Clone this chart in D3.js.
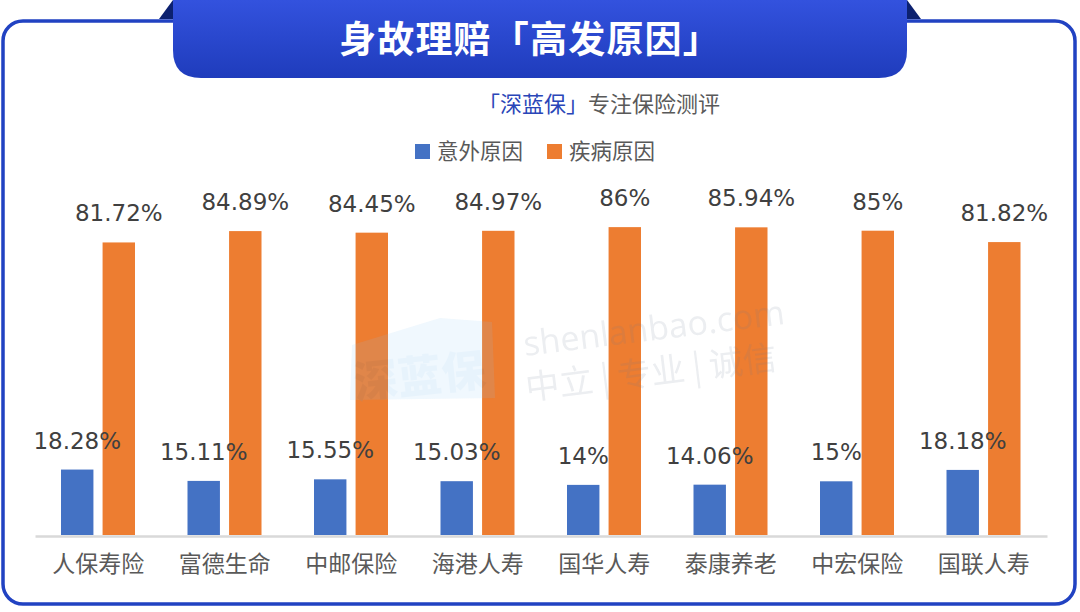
<!DOCTYPE html>
<html><head><meta charset="utf-8">
<script src="https://cdn.jsdelivr.net/npm/d3@7"></script>
<style>html,body{margin:0;padding:0;background:#fff;}svg{display:block;}</style>
</head><body>
<svg id="chart" width="1080" height="612"></svg>
<script>
const categories = ["人保寿险","富德生命","中邮保险","海港人寿","国华人寿","泰康养老","中宏保险","国联人寿"];
const seriesNames = ["意外原因","疾病原因"];
const accident = [18.28, 15.11, 15.55, 15.03, 14, 14.06, 15, 18.18];
const disease = [81.72, 84.89, 84.45, 84.97, 86, 85.94, 85, 81.82];
const colors = ["#4472c4", "#ed7d31"];
const title = "身故理赔「高发原因」";
const subtitleBrand = "「深蓝保」";
const subtitleRest = "专注保险测评";

const svg = d3.select("#chart");
const CJK = "'Noto Sans CJK SC','Noto Sans',sans-serif";

const defs = svg.append("defs");
const g1 = defs.append("linearGradient").attr("id","bannerGrad").attr("x1",0).attr("y1",0).attr("x2",0).attr("y2",1);
g1.append("stop").attr("offset","0%").attr("stop-color","#3352de");
g1.append("stop").attr("offset","100%").attr("stop-color","#1f3cbc");

// outer frame
svg.append("rect").attr("x",3).attr("y",21).attr("width",1072).attr("height",583)
  .attr("rx",20).attr("fill","#fff").attr("stroke","#2142c2").attr("stroke-width",3.5);

// banner fold triangles
svg.append("path").attr("d","M159,19 L173,0 L173,19 Z").attr("fill","#0c2170");
svg.append("path").attr("d","M907,0 L921,19 L907,19 Z").attr("fill","#0c2170");
// banner
const bx=173, bw=734, bh=78, r=28;
svg.append("path")
  .attr("d",`M${bx},0 H${bx+bw} V${bh-r} Q${bx+bw},${bh} ${bx+bw-r},${bh} H${bx+r} Q${bx},${bh} ${bx},${bh-r} Z`)
  .attr("fill","url(#bannerGrad)");
svg.append("text").attr("x",530).attr("y",53).attr("text-anchor","middle")
  .attr("font-family",CJK).attr("font-weight",700).attr("font-size",37).attr("letter-spacing",1.2)
  .attr("fill","#fff")
  .text(title);

// subtitle
const sub = svg.append("text").attr("x",478).attr("y",112).attr("font-family",CJK).attr("font-size",22);
sub.append("tspan").attr("fill","#2a46b8").text(subtitleBrand);
sub.append("tspan").attr("fill","#595959").text(subtitleRest);

// legend
const legX = [415, 547];
seriesNames.forEach((n,i)=>{
  svg.append("rect").attr("x",legX[i]).attr("y",144).attr("width",15).attr("height",15).attr("fill",colors[i]);
  svg.append("text").attr("x",legX[i]+22).attr("y",159).attr("font-family",CJK).attr("font-size",21.5)
    .attr("fill","#595959").text(n);
});

// scales
const x0 = d3.scaleBand().domain(categories).range([35,1047]).padding(0);
const x1 = d3.scaleBand().domain(seriesNames).range([26,100]).paddingInner(0.22);
const y = d3.scaleLinear().domain([0,100]).range([535,177]);

const data = categories.map((c,i)=>({cat:c, vals:[accident[i], disease[i]]}));

const groups = svg.append("g").selectAll("g").data(data).join("g")
  .attr("transform",d=>`translate(${x0(d.cat)},0)`);
groups.selectAll("rect").data(d=>d.vals.map((v,i)=>({v, s:seriesNames[i], i}))).join("rect")
  .attr("x",d=>x1(d.s)).attr("width",x1.bandwidth())
  .attr("y",d=>y(d.v)).attr("height",d=>y(0)-y(d.v))
  .attr("fill",d=>colors[d.i]);

// axis
const xAxis = d3.axisBottom(x0).tickSize(0).tickPadding(20);
const ax = svg.append("g").attr("transform","translate(0,536)").call(xAxis);
ax.select(".domain").attr("stroke","#d9d9d9").attr("stroke-width",2.5);
ax.selectAll("text").attr("font-family",CJK).attr("font-size",23).attr("fill","#595959");

// value labels
groups.selectAll("text.val").data(d=>d.vals.map((v,i)=>({v, s:seriesNames[i], i}))).join("text")
  .attr("class","val")
  .attr("x",d=>x1(d.s)+x1.bandwidth()/2)
  .attr("y",d=>y(d.v)-21)
  .attr("text-anchor","middle")
  .attr("font-family","'DejaVu Sans',sans-serif").attr("font-size",23).attr("fill","#404040")
  .text(d=>d.v+"%");

// watermark
const wm = svg.append("g").attr("opacity",0.13).attr("pointer-events","none");
wm.append("path").attr("d","M352,345 L440,318 L492,322 L495,398 L350,400 Z").attr("fill","#8cc6f2");
wm.append("text").attr("x",420).attr("y",392).attr("text-anchor","middle")
  .attr("transform","rotate(-6,420,380)")
  .attr("font-family",CJK).attr("font-weight",900).attr("font-size",44).attr("fill","#4aa3e8").text("深蓝保");
wm.append("text").attr("x",525).attr("y",356).attr("transform","rotate(-7,525,356)")
  .attr("font-family","'Open Sans',sans-serif").attr("font-size",34).attr("fill","#6c7a90").text("shenlanbao.com");
wm.append("text").attr("x",527).attr("y",400).attr("transform","rotate(-7,527,400)")
  .attr("font-family",CJK).attr("font-size",34).attr("fill","#6c7a90").text("中立 | 专业 | 诚信");
</script>
</body></html>
